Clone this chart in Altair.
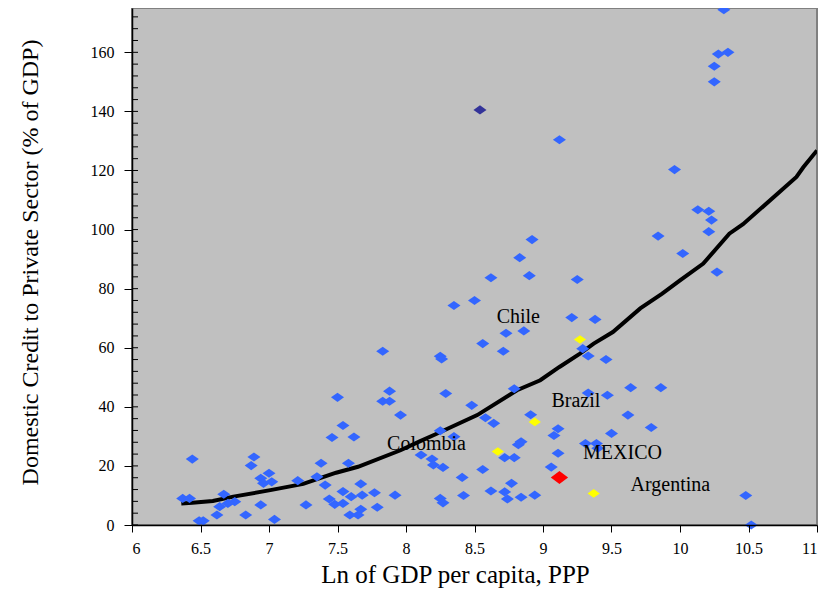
import altair as alt
import pandas as pd

# ---- data ----
blue_x = [10.32, 10.28, 10.35, 10.25, 10.25, 9.96, 10.13, 10.21, 10.23, 10.21, 9.84, 10.02, 10.27,
          9.25, 9.12, 8.92, 8.83, 8.62, 8.90, 8.50, 8.35, 9.21, 9.38, 8.73, 8.86, 8.56, 8.71, 7.83,
          8.25, 8.26, 9.29, 9.33, 9.46, 7.88, 7.83, 7.88, 8.29, 8.79, 9.33, 9.47, 9.64, 9.86, 8.48,
          7.96, 8.91, 8.58, 8.64, 9.11, 9.08, 9.62, 9.79, 9.50, 9.31, 9.39, 7.62, 7.46, 7.50, 7.54,
          8.25, 8.35, 8.84, 8.82, 8.11, 8.19, 8.20, 8.27, 8.72, 8.79, 9.11, 8.56, 9.06, 8.41, 8.77,
          8.62, 8.72, 8.74, 8.84, 8.94, 8.42, 8.25, 8.27, 7.92, 7.67, 7.77, 7.68, 7.60, 7.79, 7.67,
          7.59, 7.65, 7.54, 7.44, 7.48, 7.54, 7.41, 7.35, 7.21, 7.27, 7.38, 7.58, 6.44, 6.89, 6.87,
          6.94, 7.00, 6.96, 7.02, 6.94, 7.04, 6.83, 6.37, 6.42, 6.67, 6.75, 6.70, 6.64, 6.62, 6.49,
          6.52, 10.48, 10.52, 9.40]
blue_y = [174.4, 159.4, 160.0, 155.3, 150.0, 120.3, 106.7, 106.2, 103.2, 99.3, 97.8, 91.9, 85.6,
          83.1, 130.4, 96.6, 90.5, 83.7, 84.4, 76.0, 74.3, 70.2, 69.6, 64.9, 65.7, 61.4, 58.8, 58.8,
          57.1, 56.2, 59.7, 57.2, 56.0, 45.3, 41.9, 41.9, 44.5, 46.1, 44.7, 43.9, 46.5, 46.5, 40.5,
          37.2, 37.3, 36.3, 34.4, 32.6, 30.3, 37.2, 33.0, 31.0, 27.6, 27.6, 29.8, 29.6, 43.2, 33.7,
          31.9, 29.9, 28.2, 27.2, 23.7, 22.3, 20.3, 19.5, 22.8, 22.8, 24.3, 18.8, 19.6, 16.1, 14.1,
          11.5, 11.2, 8.8, 9.4, 10.1, 10.0, 9.0, 7.5, 10.1, 13.9, 10.9, 10.1, 9.6, 6.0, 5.3,
          3.4, 3.4, 11.3, 8.8, 7.0, 7.3, 13.5, 16.3, 15.0, 6.8, 20.9, 20.9, 22.3, 23.0, 20.1,
          15.8, 17.5, 14.1, 14.6, 6.8, 1.9, 3.4, 9.0, 9.0, 10.4, 7.9, 7.3, 6.2, 3.4, 1.4,
          1.4, 10.0, 0.0, 26.0]

dark_x = [8.54]
dark_y = [140.5]

yellow_x = [9.27, 8.94, 8.67, 9.37]   # Chile, Brazil, Colombia, Argentina
yellow_y = [62.8, 34.9, 24.9, 10.7]

red_x = [9.12]                         # Mexico
red_y = [16.1]

curve_x = [6.36, 6.44, 6.59, 6.74, 7.01, 7.25, 7.49, 7.65, 7.96, 8.10, 8.22, 8.52, 8.81, 8.98,
           9.12, 9.27, 9.37, 9.51, 9.71, 9.87, 10.0, 10.17, 10.36, 10.46, 10.85, 10.90, 11.0]
curve_y = [7.3, 7.5, 8.1, 9.6, 11.8, 13.9, 17.7, 19.7, 25.3, 28.3, 30.8, 37.2, 45.6, 49.0,
           53.5, 58.0, 61.4, 65.3, 73.3, 78.3, 82.8, 88.5, 98.6, 101.8, 117.8, 121.1, 126.8]

label_text = ["Chile", "Brazil", "Colombia", "MEXICO", "Argentina"]
label_x = [8.82, 9.24, 8.15, 9.58, 9.93]
label_y = [70.3, 41.9, 27.4, 24.3, 13.5]

x_ticks = [6, 6.5, 7, 7.5, 8, 8.5, 9, 9.5, 10, 10.5, 11]
y_ticks = [0, 20, 40, 60, 80, 100, 120, 140, 160]
y_minor = list(range(0, 176, 4))

FONT = "Liberation Serif"
DIAMOND = "M-1,0L0,-0.7L1,0L0,0.7Z"
BIG_DIAMOND = "M-1,0L0,-0.75L1,0L0,0.75Z"

xs = alt.Scale(domain=[6, 11], nice=False, zero=False)
ys = alt.Scale(domain=[0, 175], nice=False)

x_axis = alt.Axis(values=x_ticks, labelExpr="'' + datum.value", title="Ln of GDP per capita, PPP",
                  grid=False, ticks=True, tickSize=7, tickWidth=1, tickColor="black",
                  domain=True, domainColor="black", domainWidth=1.5, zindex=1,
                  labelFont=FONT, labelFontSize=16, labelColor="black", labelPadding=8,
                  titleFont=FONT, titleFontSize=25, titleFontWeight="normal", titleColor="black",
                  titleX=323, titleY=57, titleBaseline="alphabetic")
y_axis = alt.Axis(values=y_ticks, format="d", title="Domestic Credit to Private Sector (% of GDP)",
                  grid=False, ticks=True, tickSize=8, tickWidth=1, tickColor="black",
                  domain=True, domainColor="black", domainWidth=1.5, zindex=1,
                  labelFont=FONT, labelFontSize=16, labelColor="black", labelPadding=10,
                  titleFont=FONT, titleFontSize=24, titleFontWeight="normal", titleColor="black",
                  titleX=-90, titleY=254, titleBaseline="bottom")

X = alt.X("x:Q", scale=xs, axis=x_axis)
Y = alt.Y("y:Q", scale=ys, axis=y_axis)

blue_df = pd.DataFrame({"x": blue_x, "y": blue_y})
dark_df = pd.DataFrame({"x": dark_x, "y": dark_y})
yellow_df = pd.DataFrame({"x": yellow_x, "y": yellow_y})
red_df = pd.DataFrame({"x": red_x, "y": red_y})
curve_df = pd.DataFrame({"x": curve_x, "y": curve_y})
label_df = pd.DataFrame({"x": label_x, "y": label_y, "t": label_text})
minor_df = pd.DataFrame({"y": y_minor})

minor = alt.Chart(minor_df).mark_rule(color="black", strokeWidth=1).encode(
    y=Y, x=alt.value(0), x2=alt.value(6))

blue = alt.Chart(blue_df).mark_point(shape=DIAMOND, size=170, filled=True, fill="#3366FF",
                                     opacity=1, strokeWidth=0).encode(x=X, y=Y)
dark = alt.Chart(dark_df).mark_point(shape=DIAMOND, size=170, filled=True, fill="#333399",
                                     opacity=1, strokeWidth=0).encode(x=X, y=Y)
yellow = alt.Chart(yellow_df).mark_point(shape=DIAMOND, size=150, filled=True, fill="#FFFF00",
                                         opacity=1, strokeWidth=0).encode(x=X, y=Y)
red = alt.Chart(red_df).mark_point(shape=BIG_DIAMOND, size=300, filled=True, fill="#FF0000",
                                   opacity=1, strokeWidth=0).encode(x=X, y=Y)
curve = alt.Chart(curve_df).mark_line(color="black", strokeWidth=4, clip=True).encode(x=X, y=Y)
labels = alt.Chart(label_df).mark_text(font=FONT, fontSize=20, color="black", align="center",
                                       baseline="middle").encode(x=X, y=Y, text="t:N")

chart = alt.layer(curve, minor, blue, dark, yellow, red, labels).properties(
    width=685, height=517,
    autosize=alt.AutoSizeParams(type="none"),
    padding={"left": 124, "top": 0, "right": 5, "bottom": 66},
    background="white",
).configure_view(fill="#C0C0C0", stroke="#808080", strokeWidth=2)

chart.save("out.html", embed_options={"renderer": "svg", "actions": False})
